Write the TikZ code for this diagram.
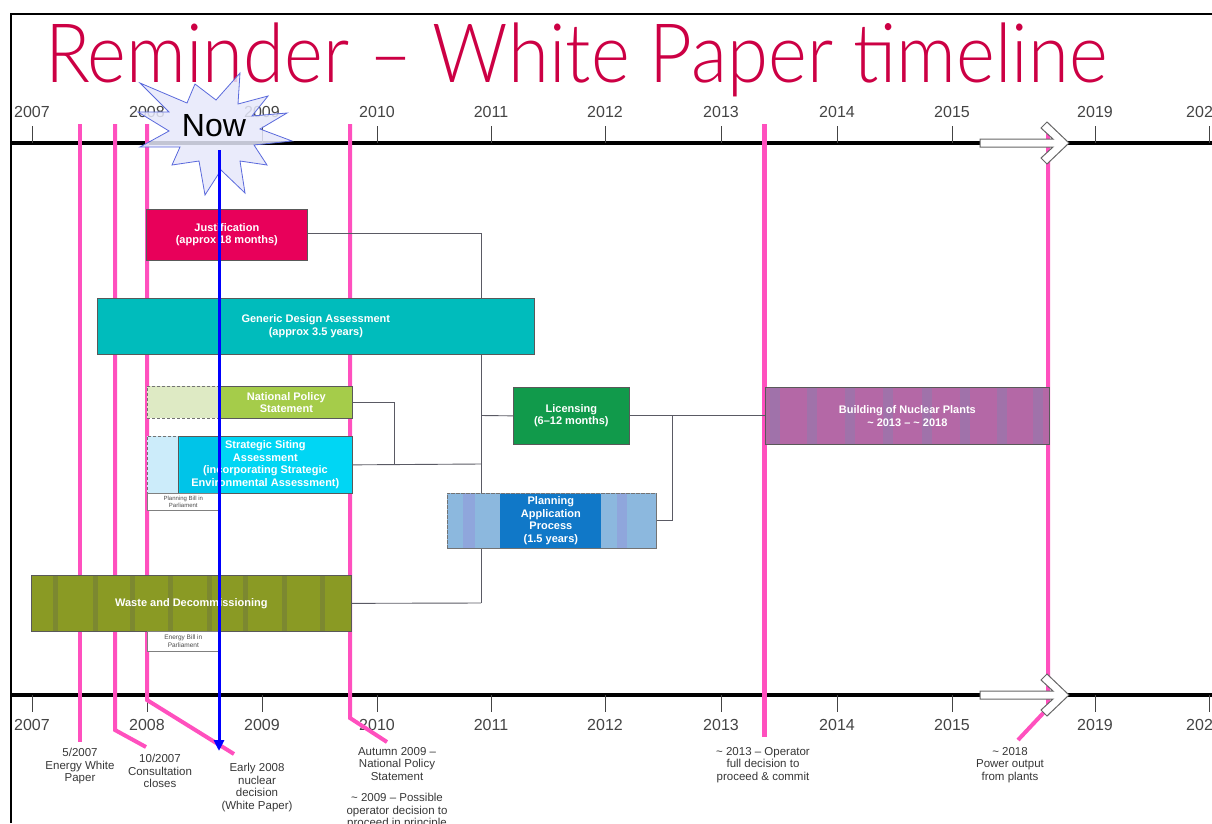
\documentclass[tikz,border=0pt]{standalone}
\usepackage{graphicx}
\usepackage{fontspec}
\setmainfont{Liberation Sans}
\newfontfamily\titlefont{Lato Light}
\usetikzlibrary{arrows.meta}
\definecolor{titlered}{RGB}{204,0,68}
\definecolor{hotpink}{RGB}{255,80,190}
\definecolor{justif}{RGB}{232,0,90}
\definecolor{gda}{RGB}{0,188,188}
\definecolor{npsgreen}{RGB}{165,204,74}
\definecolor{npspale}{RGB}{222,234,196}
\definecolor{ssacyan}{RGB}{0,214,244}
\definecolor{ssaband}{RGB}{0,196,232}
\definecolor{ssapale}{RGB}{204,236,250}
\definecolor{wasteolive}{RGB}{138,154,36}
\definecolor{wastestripe}{RGB}{124,136,48}
\definecolor{licgreen}{RGB}{17,154,75}
\definecolor{planpale}{RGB}{140,184,222}
\definecolor{planband}{RGB}{143,166,220}
\definecolor{plandark}{RGB}{16,120,200}
\definecolor{buildpurple}{RGB}{180,104,166}
\definecolor{buildstripe}{RGB}{160,114,170}
\definecolor{starfill}{RGB}{230,232,250}
\definecolor{staredge}{RGB}{90,105,220}
\definecolor{axisgrey}{RGB}{68,68,68}
\definecolor{notegrey}{RGB}{55,55,55}
\definecolor{connector}{RGB}{90,90,100}
\newcommand{\barfont}{\bfseries\fontsize{11}{12.5}\selectfont}
\newcommand{\yearfont}{\fontsize{16}{18}\selectfont}
\newcommand{\notefont}{\fontsize{11.5}{12.7}\selectfont}
\newcommand{\smallboxfont}{\fontsize{6}{7}\selectfont}
\tikzset{
  bar/.style={draw=black!65, line width=0.7pt, inner sep=0pt, anchor=north west, text=white, font=\barfont, align=center},
  dashbar/.style={draw=black!55, dash pattern=on 3pt off 2pt, line width=0.8pt, anchor=north west, inner sep=0pt},
  conn/.style={draw=connector, line width=0.9pt},
  pinkline/.style={draw=hotpink, line width=4pt},
  tickmark/.style={draw=axisgrey, line width=0.9pt},
  yearlabel/.style={font=\yearfont, text=axisgrey, anchor=base, inner sep=0pt},
  notelabel/.style={font=\notefont, text=notegrey, align=center, anchor=north, inner sep=0pt},
  smallbox/.style={draw=black!50, fill=white, line width=0.6pt, anchor=north west, inner sep=0pt, minimum width=72pt, align=center, font=\smallboxfont, text=black!70},
  openarrow/.style={fill=white, draw=black!60, line width=1pt, line join=miter}
}
\begin{document}
\begin{tikzpicture}[x=1pt,y=-1pt]
\useasboundingbox (0,0) rectangle (1212,823);
% title
\node[anchor=base west, inner sep=0pt, text=titlered, font=\titlefont\fontsize{82}{82}\selectfont] (title) at (45,82) {\scalebox{0.905}[1]{Reminder – White Paper timeline}};
% frame
\draw[line width=2pt] (11,823) -- (11,14) -- (1212,14);
% axes
\draw[line width=4pt] (11,143) -- (1212,143);
\draw[line width=4pt] (11,695) -- (1212,695);
\foreach \xx/\yy in {32/2007,147/2008,262/2009,377/2010,491/2011,605/2012,721/2013,837/2014,952/2015,1095/2019}{
  \draw[tickmark] (\xx,126) -- (\xx,143);
  \draw[tickmark] (\xx,695) -- (\xx,712);
  \node[yearlabel] (top\yy) at (\xx,117) {\yy};
  \node[yearlabel] (bot\yy) at (\xx,730) {\yy};
}
\draw[tickmark] (1209,126) -- (1209,143);
\draw[tickmark] (1209,695) -- (1209,712);
\node[yearlabel, anchor=base west] (toplast) at (1186,117) {202};
\node[yearlabel, anchor=base west] (botlast) at (1186,730) {202};
% pink milestone lines
\draw[pinkline] (80,124) -- (80,742);
\draw[pinkline] (115,124) -- (115,730) -- (146,747);
\draw[pinkline] (147,124) -- (147,700) -- (234,754);
\draw[pinkline] (350,124) -- (350,718) -- (387,742);
\draw[pinkline, line width=5pt] (764,124) -- (764,737);
\draw[pinkline] (1048,124) -- (1048,708) -- (1018,740);
% junction coordinates
\coordinate (jtop) at (481,233);
\coordinate (jbot) at (481,603);
\coordinate (jssa) at (481,464);
\coordinate (jnps) at (394,464);
\coordinate (jlic) at (481,415.5);
\coordinate (jr) at (672,415.5);
% bars
\node[bar, fill=justif, minimum width=161pt, minimum height=51pt] (just) at (146,209) {Justification\\(approx 18 months)};
\node[bar, fill=npspale, dashbar, minimum width=73pt, minimum height=32pt] (npspalebox) at (147,386) {};
\node[bar, fill=npsgreen, minimum width=132pt, minimum height=32pt] (nps) at (220,386) {National Policy\\Statement};
\node[bar, fill=ssapale, dashbar, minimum width=31pt, minimum height=57pt] (ssapalebox) at (147,436) {};
\node[bar, fill=ssacyan, minimum width=174pt, minimum height=57pt,
  path picture={\fill[ssaband] ([xshift=2pt]path picture bounding box.south west) rectangle ++(40pt,60pt);}] (ssa) at (178,436) {Strategic Siting\\Assessment\\(incorporating Strategic\\Environmental Assessment)};
\node[smallbox, minimum height=17pt] (pbill) at (147,493) {Planning Bill in\\Parliament};
\node[bar, fill=wasteolive, minimum width=320pt, minimum height=56pt,
  path picture={\foreach \o in {22,62,99,137,176,212,251,289}{\fill[wastestripe] ([xshift=\o pt]path picture bounding box.south west) rectangle ++(5pt,60pt);}}] (waste) at (31,575) {Waste and Decommissioning};
\node[smallbox, minimum height=20pt, font=\fontsize{6.5}{7.5}\selectfont] (ebill) at (147,631) {Energy Bill in\\Parliament};
\node[bar, fill=licgreen, minimum width=116pt, minimum height=57pt] (lic) at (513,387) {Licensing\\(6–12 months)};
\node[bar, fill=buildpurple, minimum width=284pt, minimum height=57pt,
  path picture={\foreach \o in {5,42,80,118,157,195,232,268}{\fill[buildstripe] ([xshift=\o pt]path picture bounding box.south west) rectangle ++(10pt,60pt);}}] (build) at (765,387) {Building of Nuclear Plants\\\textasciitilde{} 2013 – \textasciitilde{} 2018};
% connectors
\draw[conn] (just.east |- jtop) -- (jtop) -- (jbot);
\draw[conn] (waste.east) -- (jbot);
\draw[conn] (ssa.east) -- (jssa);
\draw[conn] (nps.east) -| (jnps);
\draw[conn] (jlic) -- (lic.west);
\draw[conn] (lic.east) -- (build.west);
% bars drawn over the connectors
\node[bar, fill=gda, minimum width=437pt, minimum height=56pt] (gdabar) at (97,298) {Generic Design Assessment\\(approx 3.5 years)};
\node[bar, dashbar, fill=planpale, minimum width=209pt, minimum height=55pt,
  path picture={\fill[planband] ([xshift=16pt]path picture bounding box.south west) rectangle ++(12pt,60pt);
                \fill[planband] ([xshift=170pt]path picture bounding box.south west) rectangle ++(10pt,60pt);}] (plan) at (447,493) {};
\node[bar, draw=none, fill=plandark, minimum width=101pt, minimum height=54pt] (planin) at (500,493.5) {Planning\\Application\\Process\\(1.5 years)};
\draw[dashbar] (plan.south west) rectangle (plan.north east);
\draw[conn] (jr) |- (plan.east);
% open arrows
\draw[openarrow] (980,139) -- (1053,139) -- (1041,128) -- (1047,122) -- (1069,143) -- (1047,164) -- (1041,158) -- (1053,147) -- (980,147) -- cycle;
\draw[openarrow] (980,691) -- (1053,691) -- (1041,680) -- (1047,674) -- (1069,695) -- (1047,716) -- (1041,710) -- (1053,699) -- (980,699) -- cycle;
% star
\filldraw[fill=starfill, draw=staredge, line width=0.8pt, fill opacity=0.85]
  (240,73) -- (238,104) -- (268,96) -- (252,116) -- (287,113) -- (260,129) -- (292,141) -- (254,145) -- (267,165) -- (240,161) -- (245,193) -- (221,170) -- (205,195) -- (199,161) -- (172,165) -- (180,147) -- (140,147) -- (169,131) -- (138,112) -- (169,112) -- (140,83) -- (187,103) -- (195,84) -- (216,100) -- cycle;
\node[anchor=base, inner sep=0pt, font=\fontsize{32}{32}\selectfont] (now) at (214,136) {Now};
% blue now arrow
\coordinate (nowtop) at (219,150);
\coordinate (nowtip) at (219,751);
\draw[line width=3pt, blue, -{Triangle[length=11pt,width=10pt]}] (nowtop) -- (nowtip);
% notes
\node[notelabel] (n1) at (80,748) {5/2007\\Energy White\\Paper};
\node[notelabel] (n2) at (160,754) {10/2007\\Consultation\\closes};
\node[notelabel] (n3) at (257,763) {Early 2008\\nuclear\\decision\\(White Paper)};
\node[notelabel] (n4) at (397,747) {Autumn 2009 –\\National Policy\\Statement};
\node[notelabel] (n5) at (397,793) {\textasciitilde{} 2009 – Possible\\operator decision to\\proceed in principle};
\node[notelabel] (n6) at (763,747) {\textasciitilde{} 2013 – Operator\\full decision to\\proceed \& commit};
\node[notelabel] (n7) at (1010,747) {\textasciitilde{} 2018\\Power output\\from plants};
\end{tikzpicture}
\end{document}
